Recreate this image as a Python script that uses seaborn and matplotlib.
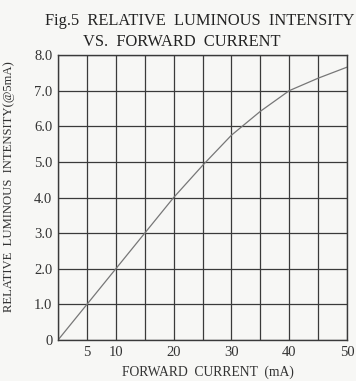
import matplotlib
matplotlib.use("Agg")
import matplotlib.pyplot as plt
import seaborn as sns
import pandas as pd

current_ma = [0, 5, 10, 15, 20, 25, 30, 35, 40, 45, 50]
rel_intensity = [0.0, 1.0, 2.0, 3.0, 4.0, 4.9, 5.75, 6.42, 7.0, 7.35, 7.66]
x_tick_vals = [0, 5, 10, 15, 20, 25, 30, 35, 40, 45, 50]
x_tick_labels = ["", "5", "10", "", "20", "", "30", "", "40", "", "50"]
y_tick_vals = [0, 1, 2, 3, 4, 5, 6, 7, 8]
y_tick_labels = ["0", "1.0", "2.0", "3.0", "4.0", "5.0", "6.0", "7.0", "8.0"]

sns.set_style("white")
plt.rcParams['font.family'] = ['Liberation Serif', 'DejaVu Serif']

df = pd.DataFrame({"current": current_ma, "intensity": rel_intensity})

fig = plt.figure(figsize=(3.56, 3.81), dpi=100)
fig.patch.set_facecolor("#f7f7f5")
ax = fig.add_axes([0.163, 0.1076, 0.812, 0.748])
ax.set_facecolor("#f7f7f5")

sns.lineplot(data=df, x="current", y="intensity", ax=ax, color="#777777", linewidth=0.9)

ax.set_xlim(0, 50)
ax.set_ylim(0, 8)
ax.set_xticks(x_tick_vals)
ax.set_xticklabels(x_tick_labels)
ax.set_yticks(y_tick_vals)
ax.set_yticklabels(y_tick_labels)
ax.grid(True, color="#3a3a3a", linewidth=0.9)
for s in ax.spines.values():
    s.set_color("#3a3a3a")
    s.set_linewidth(1.0)
ax.tick_params(length=0, pad=4, labelsize=10.5, colors="#333333")

ax.set_xlabel("FORWARD  CURRENT  (mA)", fontsize=9.8, color="#333333")
ax.xaxis.set_label_coords(0.52, -0.088)
ax.set_ylabel("RELATIVE  LUMINOUS  INTENSITY(@5mA)", fontsize=9.1, color="#333333")
ax.yaxis.set_label_coords(-0.148, 0.537)

fig.text(0.562, 0.945, "Fig.5  RELATIVE  LUMINOUS  INTENSITY", ha="center", va="center",
         fontsize=11.8, color="#222222")
fig.text(0.511, 0.89, "VS.  FORWARD  CURRENT", ha="center", va="center",
         fontsize=11.8, color="#222222")

fig.savefig("out.png", dpi=100, facecolor=fig.get_facecolor())
